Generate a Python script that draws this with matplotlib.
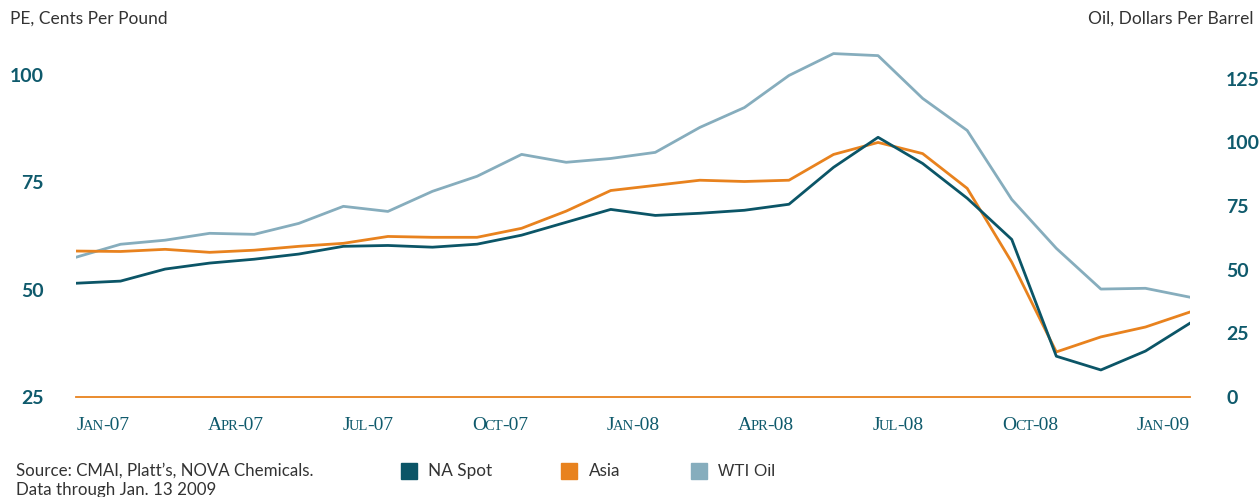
import matplotlib
matplotlib.use("Agg")
import matplotlib.pyplot as plt
from matplotlib.patches import Rectangle
from matplotlib.transforms import blended_transform_factory, offset_copy
import numpy as np

# ---- data (monthly, Jan-07 .. Feb-09) ----
na_spot = [51.5, 52.0, 54.8, 56.2, 57.1, 58.3, 60.1, 60.3, 59.9, 60.6, 62.7, 65.7, 68.7,
           67.3, 67.8, 68.5, 69.9, 78.5, 85.5, 79.4, 71.3, 61.7, 34.5, 31.3, 35.7, 42.2]
asia = [59.0, 58.9, 59.4, 58.7, 59.2, 60.1, 60.8, 62.4, 62.2, 62.2, 64.3, 68.3, 73.1,
        74.3, 75.5, 75.2, 75.5, 81.5, 84.3, 81.7, 73.6, 56.4, 35.5, 39.0, 41.3, 44.8]
wti = [54.9, 60.0, 61.6, 64.3, 63.9, 68.2, 74.9, 72.9, 80.8, 86.7, 95.3, 92.2, 93.7,
       96.1, 105.9, 113.7, 126.3, 134.9, 134.1, 117.3, 104.7, 77.6, 58.4, 42.4, 42.7, 39.2]
tick_month = [("J", "AN", "-07"), ("A", "PR", "-07"), ("J", "UL", "-07"), ("O", "CT", "-07"),
              ("J", "AN", "-08"), ("A", "PR", "-08"), ("J", "UL", "-08"), ("O", "CT", "-08"),
              ("J", "AN", "-09")]
left_ticks = [25, 50, 75, 100]
right_ticks = [0, 25, 50, 75, 100, 125]
series_names = ["NA Spot", "Asia", "WTI Oil"]

C_NA = "#0b5567"
C_ASIA = "#e8821e"
C_WTI = "#86adbd"
C_TICK = "#0f5a6c"
C_TEXT = "#333333"

fig = plt.figure(figsize=(12.6, 4.97), dpi=100)
ax = fig.add_axes([76/1260, 1-397/497, (1190-76)/1260, (397-45)/497])
ax2 = ax.twinx()

x = np.arange(len(na_spot))
ax2.plot(x, wti, color=C_WTI, lw=2.0, zorder=1)
ax.plot(x, na_spot, color=C_NA, lw=2.0, zorder=3)
ax.plot(x, asia, color=C_ASIA, lw=2.0, zorder=2)
ax.set_zorder(ax2.get_zorder() + 1)
ax.patch.set_visible(False)

lo, hi = 25, 107
ax.set_ylim(lo, hi)
ax2.set_ylim(0, (hi - lo) * 4.3 / 2.55)
ax.set_xlim(0, 25)

for a in (ax, ax2):
    for s in a.spines.values():
        s.set_visible(False)
ax.spines["bottom"].set_visible(True)
ax.spines["bottom"].set_color(C_ASIA)
ax.spines["bottom"].set_linewidth(1.3)

ax.set_yticks(left_ticks)
ax.set_yticklabels([str(v) for v in left_ticks], fontfamily="Lato", fontweight="bold",
                   fontsize=14, color=C_TICK)
ax.tick_params(axis="y", length=0, pad=23.5)
ax2.set_yticks(right_ticks)
ax2.set_yticklabels([str(v) for v in right_ticks], fontfamily="Lato", fontweight="bold",
                    fontsize=14, color=C_TICK)
ax2.tick_params(axis="y", length=0, pad=26)
ax.set_xticks([])

# small-caps month tick labels
tick_pos = np.linspace(0.6, 24.4, len(tick_month))
base = blended_transform_factory(ax.transData, ax.transAxes)
renderer = fig.canvas.get_renderer()
BIG, SMALL = 14, 10.5
for p, parts in zip(tick_pos, tick_month):
    sizes = [BIG, SMALL, BIG]
    texts = []
    widths = []
    for s, fs in zip(parts, sizes):
        t = ax.text(p, 0, s, transform=base, fontfamily="Liberation Serif", fontsize=fs,
                    color=C_TICK, ha="left", va="baseline")
        widths.append(t.get_window_extent(renderer).width)
        texts.append(t)
    gaps = [-1.5, -1.0, 0]
    total = sum(widths) + sum(gaps)
    dx = -total / 2
    for t, w, g in zip(texts, widths, gaps):
        t.set_transform(offset_copy(base, fig, x=dx, y=-33, units="dots"))
        dx += w + g

# axis headers
fig.text(10/1260, 1-19/497, "PE, Cents Per Pound", fontfamily="Lato", fontsize=12.5,
         color=C_TEXT, ha="left", va="center")
fig.text(1253/1260, 1-19/497, "Oil, Dollars Per Barrel", fontfamily="Lato", fontsize=12.5,
         color=C_TEXT, ha="right", va="center")

# source
fig.text(16/1260, 1-471/497, "Source: CMAI, Platt\u2019s, NOVA Chemicals.", fontfamily="Lato",
         fontsize=12.2, color=C_TEXT, ha="left", va="center")
fig.text(16/1260, 1-490/497, "Data through Jan. 13 2009", fontfamily="Lato",
         fontsize=12.2, color=C_TEXT, ha="left", va="center")

# legend
leg = [(401, 428, C_NA, series_names[0], "Lato"), (561, 589, C_ASIA, series_names[1], "Lato"),
       (691, 718, C_WTI, series_names[2], "Liberation Sans")]
for sx, tx, c, name, fam in leg:
    fig.patches.append(Rectangle((sx/1260, 1-479/497), 16/1260, 16/497, color=c,
                                 transform=fig.transFigure, figure=fig))
    fig.text(tx/1260, 1-471/497, name, fontfamily=fam, fontsize=12.3, color=C_TEXT,
             ha="left", va="center")

fig.savefig("out.png", dpi=100)
